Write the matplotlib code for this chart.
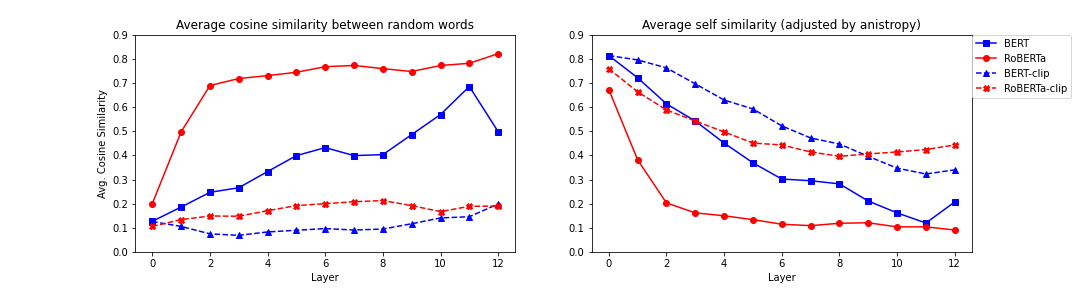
import matplotlib
matplotlib.use('Agg')
import matplotlib.pyplot as plt

layers = list(range(13))

# Similaridade média entre palavras aleatórias
cos_bert = [0.127, 0.186, 0.247, 0.266, 0.333, 0.399, 0.432, 0.399, 0.403, 0.486, 0.569, 0.685, 0.498]
cos_roberta = [0.200, 0.497, 0.689, 0.718, 0.730, 0.744, 0.767, 0.772, 0.759, 0.747, 0.772, 0.781, 0.821]
cos_bert_clip = [0.126, 0.106, 0.075, 0.069, 0.083, 0.090, 0.097, 0.091, 0.095, 0.117, 0.141, 0.146, 0.199]
cos_roberta_clip = [0.106, 0.134, 0.149, 0.148, 0.171, 0.192, 0.200, 0.208, 0.213, 0.192, 0.167, 0.189, 0.190]

# Self similarity ajustada pela anisotropia
self_bert = [0.813, 0.721, 0.613, 0.542, 0.451, 0.369, 0.302, 0.295, 0.282, 0.211, 0.162, 0.120, 0.207]
self_roberta = [0.672, 0.381, 0.203, 0.162, 0.150, 0.134, 0.115, 0.109, 0.119, 0.121, 0.104, 0.104, 0.091]
self_bert_clip = [0.813, 0.795, 0.762, 0.696, 0.629, 0.592, 0.522, 0.472, 0.447, 0.396, 0.347, 0.323, 0.340]
self_roberta_clip = [0.758, 0.663, 0.588, 0.542, 0.497, 0.451, 0.443, 0.414, 0.396, 0.406, 0.414, 0.424, 0.443]

styles = {
    'BERT': dict(color='blue', linestyle='-', marker='s'),
    'RoBERTa': dict(color='red', linestyle='-', marker='o'),
    'BERT-clip': dict(color='blue', linestyle='--', marker='^'),
    'RoBERTa-clip': dict(color='red', linestyle='--', marker='X'),
}

fig, (ax1, ax2) = plt.subplots(1, 2, figsize=(15, 4), dpi=72)
fig.subplots_adjust(bottom=0.125)

for name, vals in zip(styles, [cos_bert, cos_roberta, cos_bert_clip, cos_roberta_clip]):
    ax1.plot(layers, vals, label=name, **styles[name])
ax1.set_title('Average cosine similarity between random words')
ax1.set_xlabel('Layer')
ax1.set_ylabel('Avg. Cosine Similarity')
ax1.set_ylim(0, 0.9)

for name, vals in zip(styles, [self_bert, self_roberta, self_bert_clip, self_roberta_clip]):
    ax2.plot(layers, vals, label=name, **styles[name])
ax2.set_title('Average self similarity (adjusted by anistropy)')
ax2.set_xlabel('Layer')
ax2.set_ylim(0, 0.9)
ax2.legend(loc='upper left', bbox_to_anchor=(1.0, 1.0), borderaxespad=0)

plt.savefig('out.png', dpi=72)
